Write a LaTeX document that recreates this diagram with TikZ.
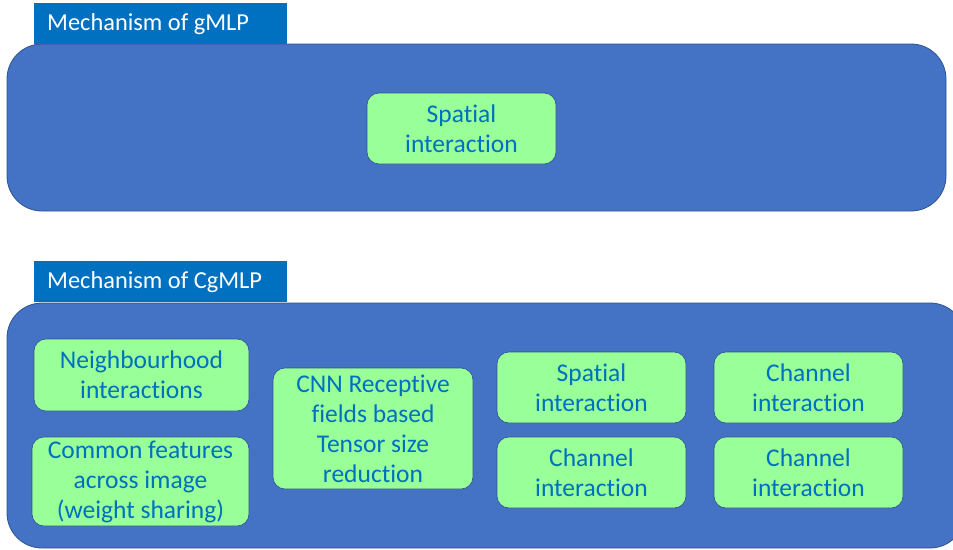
\documentclass[tikz,border=0pt]{standalone}
\usepackage{fontspec}
\setmainfont{Carlito}[Ligatures=NoCommon]
\definecolor{titleblue}{HTML}{0070C0}
\definecolor{panelblue}{HTML}{4472C4}
\definecolor{paneledge}{HTML}{2F528F}
\definecolor{boxgreen}{HTML}{99FF99}
\begin{document}
\begin{tikzpicture}[x=1pt,y=-1pt,
  title/.style={fill=titleblue,minimum width=253pt,minimum height=41pt,inner sep=0pt},
  titletext/.style={text=white,anchor=west,inner sep=0pt,font=\fontsize{24.4}{30}\selectfont},
  panel/.style={fill=panelblue,draw=paneledge,line width=0.8pt,rounded corners=35pt,inner sep=0pt},
  mech/.style={fill=boxgreen,draw=paneledge,line width=0.6pt,rounded corners=12pt,
    text=titleblue,align=center,inner sep=0pt,font=\fontsize{25.5}{30}\selectfont}]
\useasboundingbox (0,0) rectangle (953,549);
\clip (0,0) rectangle (953,549);

% gMLP
\node[panel,minimum width=939pt,minimum height=167pt] (gpanel) at (476.5,127.5) {};
\node[title] (gtitle) at (160.5,23.5) {};
\node[titletext] (gtitletext) at (47,24) {Mechanism of gMLP};
\node[mech,minimum width=189pt,minimum height=71pt] (gspatial) at (461.5,128.5) {Spatial\\interaction};

% CgMLP
\node[panel,minimum width=958pt,minimum height=245pt] (cpanel) at (486,425.5) {};
\node[title] (ctitle) at (160.5,281.5) {};
\node[titletext] (ctitletext) at (47,282) {Mechanism of CgMLP};

\node[mech,minimum width=215pt,minimum height=72pt] (neigh) at (141.5,375) {Neighbourhood\\interactions};
\node[mech,minimum width=217pt,minimum height=89pt] (common) at (140.5,481.5) {Common features\\across image\\(weight sharing)};
\node[mech,minimum width=200pt,minimum height=121pt] (cnn) at (373,428.5) {CNN Receptive\\fields based\\Tensor size\\reduction};
\node[mech,minimum width=189pt,minimum height=71pt] (cspatial) at (591.5,387.5) {Spatial\\interaction};
\node[mech,minimum width=189pt,minimum height=71pt] (chanA) at (591.5,472.5) {Channel\\interaction};
\node[mech,minimum width=189pt,minimum height=71pt] (chanB) at (808.5,387.5) {Channel\\interaction};
\node[mech,minimum width=189pt,minimum height=71pt] (chanC) at (808.5,472.5) {Channel\\interaction};

\end{tikzpicture}
\end{document}
